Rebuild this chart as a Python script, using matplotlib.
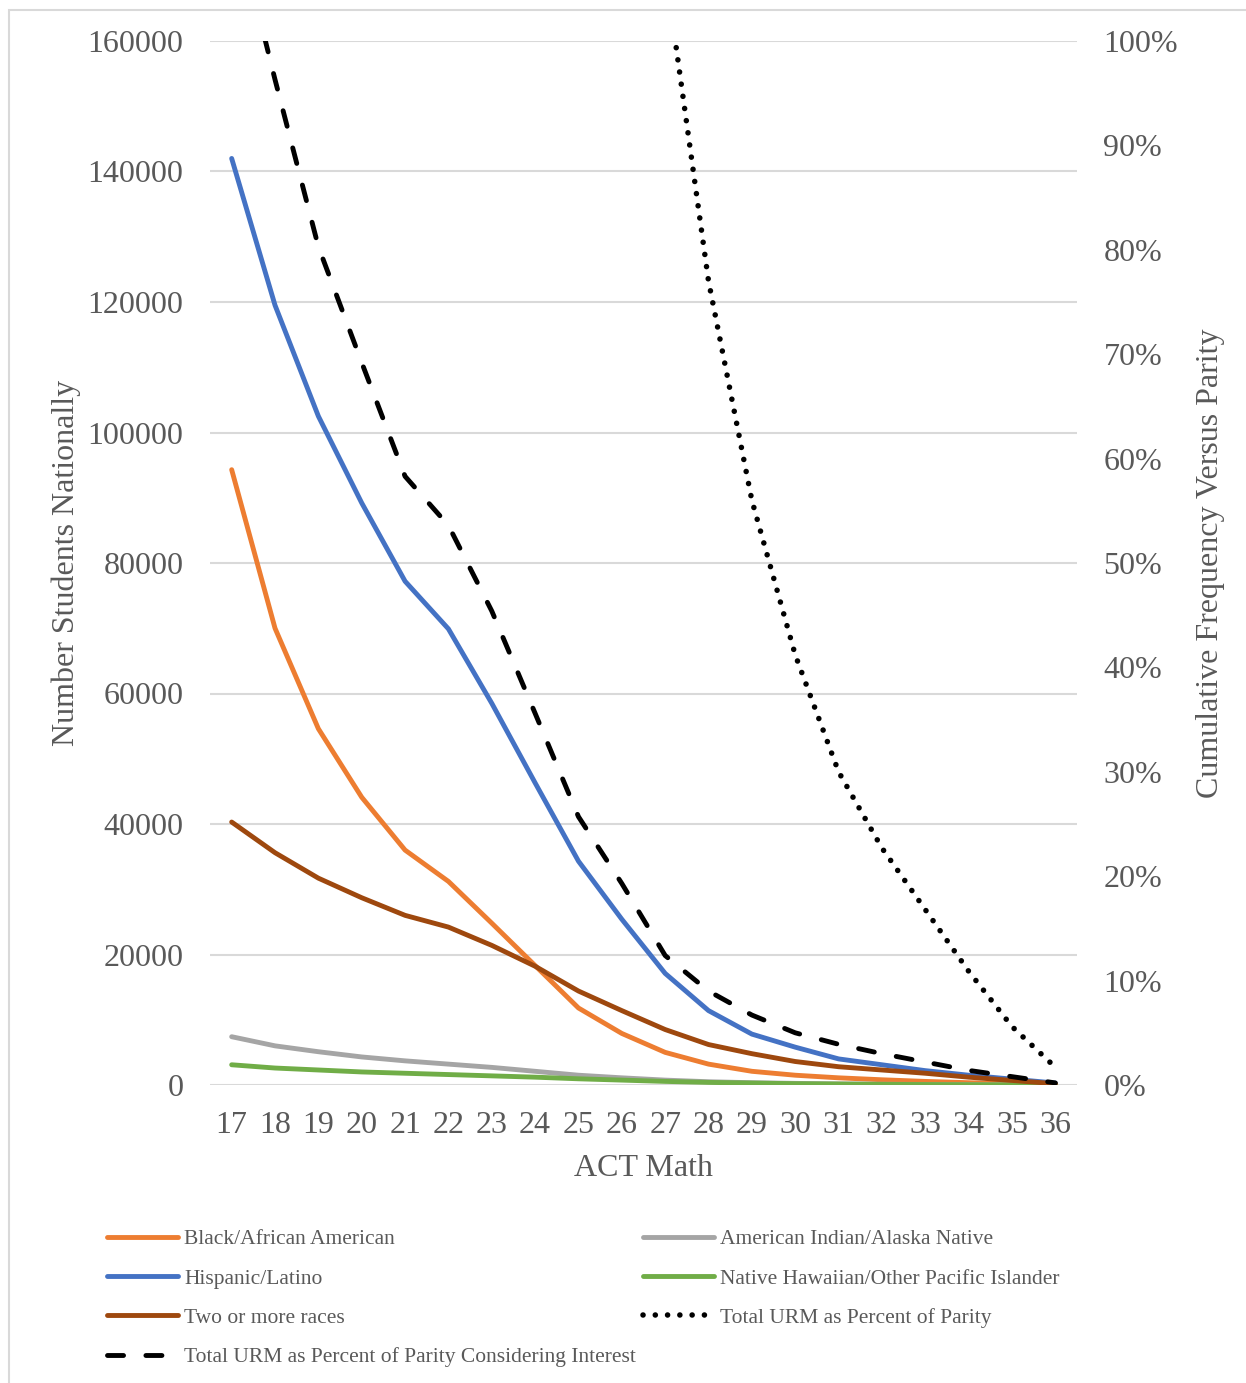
import numpy as np
import matplotlib
matplotlib.use("Agg")
import matplotlib.pyplot as plt
from matplotlib.patches import Rectangle
from matplotlib.ticker import MultipleLocator, FuncFormatter

plt.rcParams['font.family'] = ['Liberation Serif', 'DejaVu Serif']

# ACT math scores on the x axis
scores = list(range(17, 37))

# number of students nationally (left axis)
black = [94300, 70000, 54600, 44100, 36000, 31200, 24800, 18300, 11800, 7900,
         5000, 3200, 2100, 1500, 1100, 800, 550, 350, 200, 80]
hispanic = [142000, 119500, 102500, 89200, 77200, 69900, 58500, 46300, 34300, 25400,
            17100, 11400, 7800, 5800, 4000, 3100, 2200, 1500, 900, 300]
am_indian = [7400, 6000, 5100, 4300, 3700, 3200, 2700, 2100, 1500, 1100,
             750, 500, 350, 250, 170, 120, 80, 50, 30, 10]
nh_pi = [3100, 2600, 2300, 2000, 1800, 1600, 1400, 1200, 950, 750,
         550, 400, 300, 200, 150, 100, 70, 40, 20, 10]
two_more = [40300, 35600, 31700, 28700, 26000, 24200, 21400, 18200, 14400, 11400,
            8500, 6200, 4800, 3600, 2800, 2300, 1800, 1200, 700, 200]

# cumulative frequency vs parity in % (right axis); nan = off the top of the chart
urm_parity = [np.nan] * 10 + [107, 77, 56, 41.2, 30.0, 22.7, 16.8, 10.9, 5.6, 1.7]
urm_interest = [113, 96.3, 80.3, 69.2, 58.3, 53.6, 45.4, 35.6, 25.7, 19.3,
                12.4, 9.0, 6.7, 5.0, 3.9, 3.0, 2.2, 1.4, 0.8, 0.2]

txt = '#595959'
W, H = 1246, 1383
fig = plt.figure(figsize=(W / 100, H / 100), dpi=100)
fig.patches.append(Rectangle((9 / W, -0.01), 1.1, 1 - 10 / H + 0.01, transform=fig.transFigure,
                             fill=False, edgecolor='#D9D9D9', lw=1.5))

left, right, top, bottom = 210, 1077, 41, 1085
ax = fig.add_axes([left / W, 1 - bottom / H, (right - left) / W, (bottom - top) / H])
ax2 = ax.twinx()

lw = 3.5
kw = dict(lw=lw, solid_capstyle='round', solid_joinstyle='round')
l_black, = ax.plot(scores, black, color='#ED7D31', label='Black/African American', **kw)
l_hisp, = ax.plot(scores, hispanic, color='#4472C4', label='Hispanic/Latino', **kw)
l_amind, = ax.plot(scores, am_indian, color='#A5A5A5', label='American Indian/Alaska Native', **kw)
l_nhpi, = ax.plot(scores, nh_pi, color='#70AD47', label='Native Hawaiian/Other Pacific Islander', **kw)
l_two, = ax.plot(scores, two_more, color='#9E480E', label='Two or more races', **kw)

l_dot, = ax2.plot(scores, urm_parity, color='black', lw=4, linestyle=(0, (0.01, 2.2)),
                  dash_capstyle='round', label='Total URM as Percent of Parity')
l_dash, = ax2.plot(scores, urm_interest, color='black', lw=lw, linestyle=(0, (3.3, 4.6)),
                   dash_capstyle='round', label='Total URM as Percent of Parity Considering Interest')

ax.set_ylim(0, 160000)
ax.yaxis.set_major_locator(MultipleLocator(20000))
ax2.set_ylim(0, 100)
ax2.yaxis.set_major_locator(MultipleLocator(10))
ax2.yaxis.set_major_formatter(FuncFormatter(lambda v, p: f'{v:.0f}%'))
ax.set_xlim(16.5, 36.5)
ax.set_xticks(scores)

ax.grid(axis='y', color='#D9D9D9', lw=1.5)
ax.set_axisbelow(True)
for a in (ax, ax2):
    for s in a.spines.values():
        s.set_visible(False)
fs = 23
ax.tick_params(axis='y', length=0, pad=19, labelsize=fs, labelcolor=txt)
ax.tick_params(axis='x', length=0, pad=19, labelsize=fs, labelcolor=txt)
ax2.tick_params(axis='y', length=0, pad=19, labelsize=fs, labelcolor=txt)

ax.set_xlabel('ACT Math', fontsize=fs, color=txt, labelpad=10)
ax.set_ylabel('Number Students Nationally', fontsize=fs, color=txt, labelpad=5)
ax2.set_ylabel('Cumulative Frequency Versus Parity', fontsize=fs, color=txt, labelpad=13)

handles = [l_black, l_hisp, l_two, l_dash, l_amind, l_nhpi, l_dot]
leg = fig.legend(handles=handles, loc='upper left', bbox_to_anchor=(107 / W, 1 - 1229 / H),
                 ncol=2, frameon=False, fontsize=15.5, handlelength=3.3, handletextpad=0.3,
                 columnspacing=0.3, labelspacing=0.9, borderaxespad=0, borderpad=0)
for t in leg.get_texts():
    t.set_color(txt)

fig.savefig('out.png', dpi=100)
